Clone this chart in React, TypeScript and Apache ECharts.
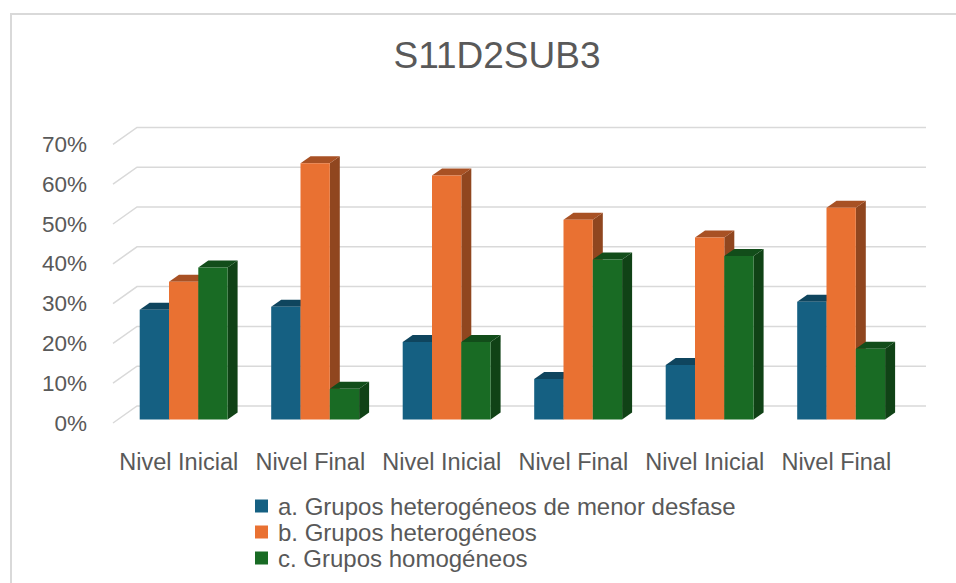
import React, { useEffect, useRef } from 'react';
import * as echarts from 'echarts';

const categories = ['Nivel Inicial', 'Nivel Final', 'Nivel Inicial', 'Nivel Final', 'Nivel Inicial', 'Nivel Final'];
const seriesNames = [
  'a. Grupos heterogéneos de menor desfase',
  'b. Grupos heterogéneos',
  'c. Grupos homogéneos',
];
const seriesA = [0.276, 0.283, 0.195, 0.102, 0.137, 0.296];
const seriesB = [0.346, 0.644, 0.613, 0.502, 0.457, 0.532];
const seriesC = [0.382, 0.077, 0.195, 0.402, 0.411, 0.178];
const yTicks = [0, 0.1, 0.2, 0.3, 0.4, 0.5, 0.6, 0.7];

const frontColors = ['#156082', '#e97132', '#196b24'];
const topColors = ['#0f455e', '#a85124', '#124d1a'];
const sideColors = ['#0d3c51', '#90461f', '#104216'];

const FONT = '"Liberation Sans", Arial, sans-serif';
const TEXT = '#595959';
const BAR_W = 29.3;
const BAR_OFF_X = 4.9;
const BAR_OFF_Y = -3.5;
const DX = 10;
const DY = -7;
const WALL_X = 24;
const WALL_Y = -17;

export default function App() {
  const ref = useRef<HTMLDivElement>(null);
  useEffect(() => {
    if (!ref.current) return;
    const chart = echarts.init(ref.current, undefined, { renderer: 'svg' });
    const allSeries = [seriesA, seriesB, seriesC];

    const makeBarRender = (idx: number) => (params: any, api: any) => {
      const cat = api.value(0);
      const val = api.value(1);
      const base = api.coord([cat, 0]);
      const top = api.coord([cat, val]);
      const w = BAR_W;
      const x = base[0] - w * 1.5 + idx * w + BAR_OFF_X;
      const yb = base[1] + BAR_OFF_Y;
      const yt = top[1] + BAR_OFF_Y;
      return {
        type: 'group',
        children: [
          {
            type: 'polygon',
            shape: { points: [[x + w, yt], [x + w + DX, yt + DY], [x + w + DX, yb + DY], [x + w, yb]] },
            style: { fill: sideColors[idx] },
          },
          {
            type: 'polygon',
            shape: { points: [[x, yt], [x + DX, yt + DY], [x + w + DX, yt + DY], [x + w, yt]] },
            style: { fill: topColors[idx] },
          },
          {
            type: 'rect',
            shape: { x, y: yt, width: w, height: yb - yt },
            style: { fill: frontColors[idx] },
          },
        ],
      };
    };

    const gridRender = (params: any, api: any) => {
      const v = api.value(1);
      const cs = params.coordSys;
      const y = api.coord([0, v])[1];
      return {
        type: 'polyline',
        shape: {
          points: [
            [cs.x, y],
            [cs.x + WALL_X, y + WALL_Y],
            [cs.x + cs.width + WALL_X, y + WALL_Y],
          ],
        },
        style: { stroke: '#d9d9d9', lineWidth: 1.5, fill: 'none' },
      };
    };

    chart.setOption({
      animation: false,
      backgroundColor: '#ffffff',
      title: {
        text: 'S11D2SUB3',
        left: 492,
        top: 32,
        textAlign: 'center',
        textStyle: { fontFamily: FONT, fontSize: 37, fontWeight: 'normal', color: TEXT },
      },
      graphic: [
        {
          type: 'rect',
          shape: { x: 11, y: 14, width: 1000, height: 600 },
          style: { fill: 'none', stroke: '#d9d9d9', lineWidth: 2 },
          silent: true,
        },
      ],
      legend: {
        orient: 'vertical',
        left: 250,
        top: 489,
        itemWidth: 13,
        itemHeight: 13,
        itemGap: 2,
        icon: 'rect',
        selectedMode: false,
        data: seriesNames,
        textStyle: { fontFamily: FONT, fontSize: 24, color: TEXT, lineHeight: 23.5, padding: [0, 0, 0, 5] },
      },
      grid: { left: 113, right: 54, top: 144.4, bottom: 160, containLabel: false },
      xAxis: {
        type: 'category',
        data: categories,
        axisLine: { show: false },
        axisTick: { show: false },
        splitLine: { show: false },
        axisLabel: { interval: 0, margin: 27, fontFamily: FONT, fontSize: 23.5, color: TEXT },
      },
      yAxis: {
        type: 'value',
        min: 0,
        max: 0.7,
        interval: 0.1,
        axisLine: { show: false },
        axisTick: { show: false },
        splitLine: { show: false },
        axisLabel: {
          margin: 26,
          fontFamily: FONT,
          fontSize: 22.5,
          color: TEXT,
          formatter: (v: number) => Math.round(v * 100) + '%',
        },
      },
      series: [
        {
          type: 'custom',
          name: 'gridlines',
          z: 1,
          silent: true,
          renderItem: gridRender,
          data: yTicks.map((v) => [0, v]),
          encode: { x: 0, y: 1 },
        },
        ...allSeries.map((arr, idx) => ({
          type: 'custom',
          name: seriesNames[idx],
          z: 2 + idx,
          itemStyle: { color: frontColors[idx] },
          renderItem: makeBarRender(idx),
          data: arr.map((v, i) => [i, v]),
          encode: { x: 0, y: 1 },
        })),
      ],
    });
    return () => chart.dispose();
  }, []);
  return <div ref={ref} style={{ position: 'absolute', left: 0, top: 0, width: 956, height: 583 }} />;
}
